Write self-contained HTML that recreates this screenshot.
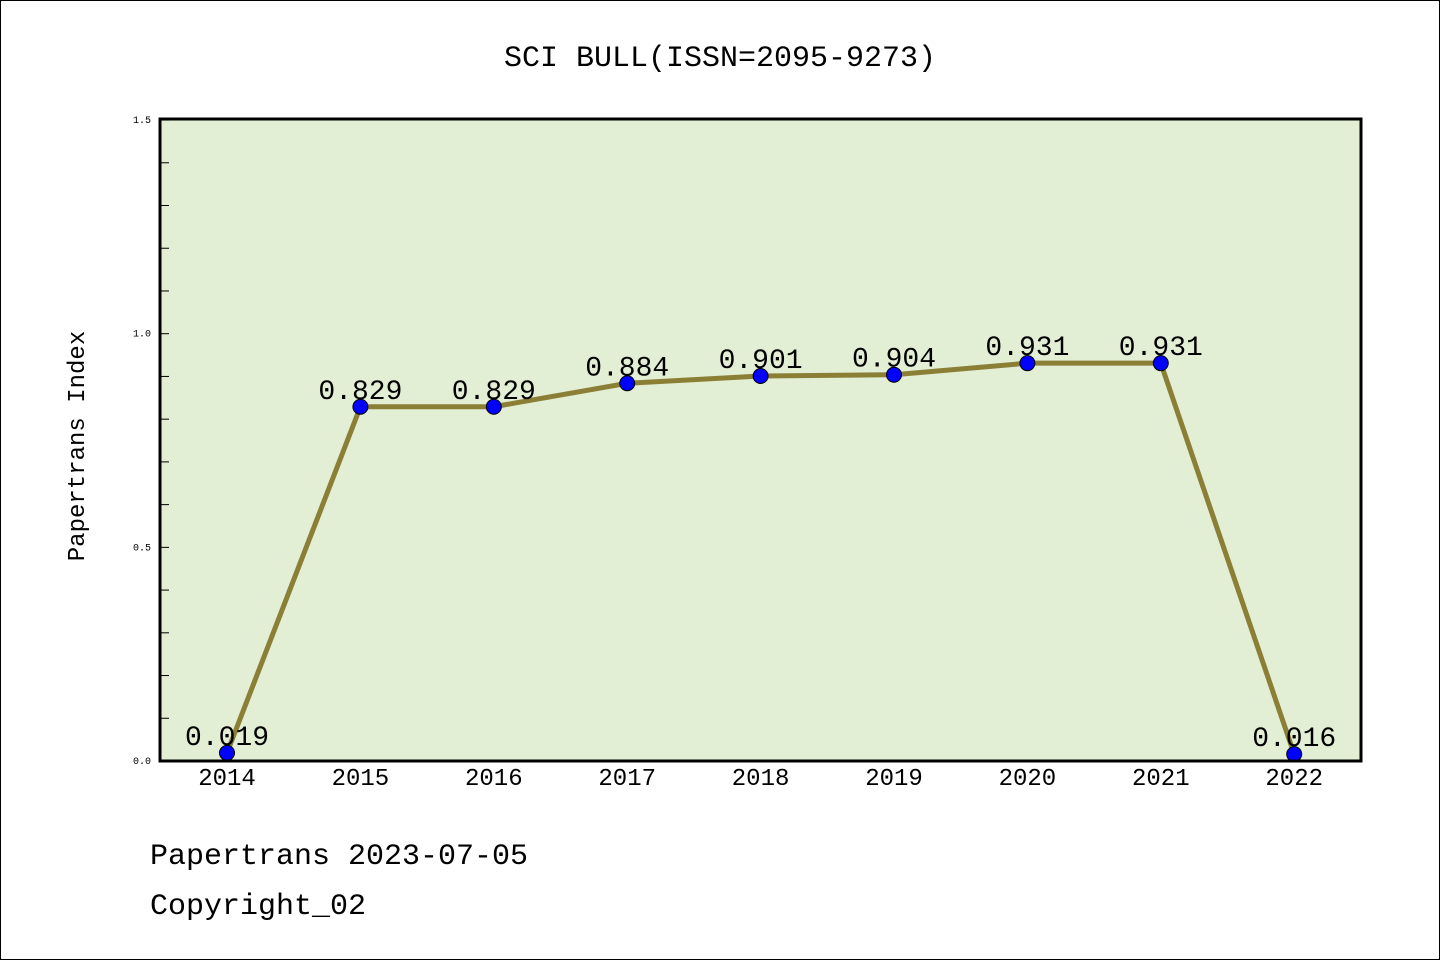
<!DOCTYPE html>
<html><head><meta charset="utf-8"><style>
html,body{margin:0;padding:0;background:#fff}
svg{display:block}
text{font-family:"Liberation Mono","Noto Sans CJK SC",monospace}
</style></head><body>
<svg id="c" width="1440" height="960">
<rect x="0.5" y="0.5" width="1439" height="959" fill="#fff" stroke="#000"/>
<text x="720" y="66" text-anchor="middle" font-size="30">SCI BULL(ISSN=2095-9273)</text>
<rect x="160" y="119" width="1201" height="642" fill="#e2efd5"/>
<g id="g"></g>
<rect x="160" y="119" width="1201" height="642" fill="none" stroke="#000" stroke-width="3"/>
<text transform="translate(84,446) rotate(-90)" text-anchor="middle" font-size="24">Papertrans Index</text>
<text x="150" y="864" font-size="30">Papertrans 2023-07-05</text>
<text x="150" y="914" font-size="30">Copyright_02</text>
</svg>
<script>
const years=["2014","2015","2016","2017","2018","2019","2020","2021","2022"];
const values=[0.019,0.829,0.829,0.884,0.901,0.904,0.931,0.931,0.016];
const labels=["0.019","0.829","0.829","0.884","0.901","0.904","0.931","0.931","0.016"];
const yTicks=[0.0,0.5,1.0,1.5];
const yMinor=[0.1,0.2,0.3,0.4,0.6,0.7,0.8,0.9,1.1,1.2,1.3,1.4];
const NS="http://www.w3.org/2000/svg";
const g=document.getElementById('g');
const xs=i=>227+i*133.4;
const ys=v=>761-v*427.3;
function el(t,a){const e=document.createElementNS(NS,t);for(const k in a)e.setAttribute(k,a[k]);g.appendChild(e);return e;}
yTicks.forEach(v=>{
 const l=el('line',{x1:160,x2:169,y1:ys(v),y2:ys(v),stroke:'#000','stroke-width':1});
 
 
 const t=el('text',{x:151,y:ys(v)+3,'text-anchor':'end','font-size':10,'font-family':'Liberation Sans, sans-serif'});
 t.textContent=v.toFixed(1);
 
 
});
yMinor.forEach(v=>{
 const l=el('line',{x1:160,x2:169,y1:ys(v),y2:ys(v),stroke:'#000','stroke-width':1});
 
 
});
years.forEach((y,i)=>{
 const t=el('text',{x:xs(i),y:785,'text-anchor':'middle','font-size':24});
 t.textContent=y;
 
 
});
const p=el('polyline',{points:values.map((v,i)=>xs(i)+','+ys(v)).join(' '),fill:'none',stroke:'#8b7f35','stroke-width':5});


values.forEach((v,i)=>{
 const c=el('circle',{cx:xs(i),cy:ys(v),r:7.5,fill:'#0000ff',stroke:'#000','stroke-width':1});
 
 
 const t=el('text',{x:xs(i),y:ys(v)-8,'text-anchor':'middle','font-size':28});
 t.textContent=labels[i];
 
 
});
</script>
</body></html>
